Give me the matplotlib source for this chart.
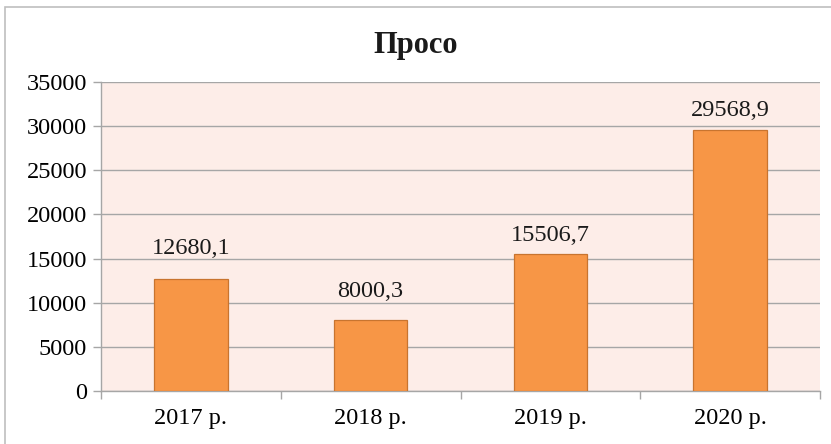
import matplotlib.pyplot as plt
import numpy as np
from matplotlib.patches import Rectangle

years = ['2017 р.', '2018 р.', '2019 р.', '2020 р.']
values = [12680.1, 8000.3, 15506.7, 29568.9]
labels = ['12680,1', '8000,3', '15506,7', '29568,9']
yticks = [0, 5000, 10000, 15000, 20000, 25000, 30000, 35000]
# label gap above bar top, in points (as placed in the original)
label_gap = [18, 16.5, 9.5, 10]

plt.rcParams['font.family'] = ['Liberation Serif', 'DejaVu Serif']

fig = plt.figure(figsize=(8.31, 4.44), dpi=100)
ax = fig.add_axes([101/831, 53/444, 719/831, 309/444])

ax.set_facecolor('#FDEDE8')
x = np.arange(len(years))
bars = ax.bar(x, values, width=0.41, color='#F79646', edgecolor='#C8742F',
              linewidth=0.9, zorder=3)

for xi, v, lab, g in zip(x, values, labels, label_gap):
    ax.annotate(lab, (xi, v), xytext=(0, g), textcoords='offset points',
                ha='center', va='baseline', fontsize=17.5, color='#1a1a1a')

ax.set_xlim(-0.5, 3.5)
ax.set_ylim(0, 35000)
ax.set_yticks(yticks)
ax.set_yticklabels([str(t) for t in yticks], fontsize=17.5)
ax.set_xticks(x)
ax.set_xticklabels(years, fontsize=17.5)
ax.set_xticks(np.arange(-0.5, 4, 1), minor=True)
ax.tick_params(axis='x', which='major', length=0, pad=12)
ax.tick_params(axis='x', which='minor', length=6, color='#A6A6A6', width=1)
ax.tick_params(axis='y', length=6, color='#A6A6A6', width=1, pad=4)

ax.grid(axis='y', color='#A6A6A6', linewidth=1, zorder=0)
for side in ['top', 'right']:
    ax.spines[side].set_visible(False)
for side in ['left', 'bottom']:
    ax.spines[side].set_color('#A6A6A6')
    ax.spines[side].set_linewidth(1)

fig.text(0.5, 1 - 45/444, 'Просо', ha='center', va='center',
         fontsize=22, fontweight='bold', color='#1a1a1a')

# chart border (right/bottom edges fall outside the image)
fig.patches.append(Rectangle((5/831, -0.1), 2, 1.1 - 7/444, transform=fig.transFigure,
                             fill=False, edgecolor='#BFBFBF', linewidth=1.2))

fig.savefig('out.png', dpi=100)
